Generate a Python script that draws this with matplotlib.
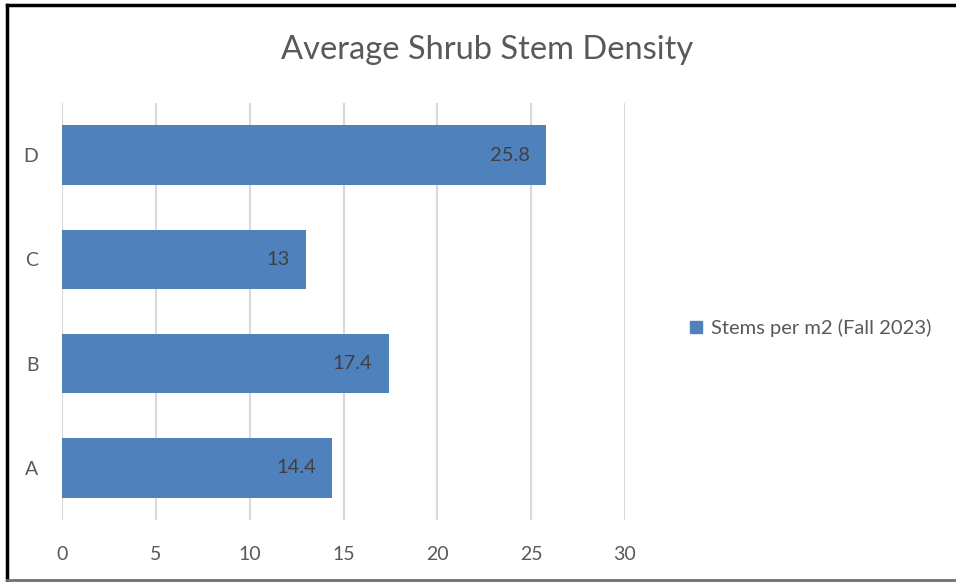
import matplotlib.pyplot as plt
from matplotlib.lines import Line2D
from matplotlib.patches import Patch

plt.rcParams['font.family'] = ['Lato', 'DejaVu Sans']

sites = ['A', 'B', 'C', 'D']
stems = [14.4, 17.4, 13, 25.8]
xticks = [0, 5, 10, 15, 20, 25, 30]
series_name = 'Stems per m2 (Fall 2023)'

W, H = 956, 582
fig = plt.figure(figsize=(W / 100, H / 100), dpi=100)
ax = fig.add_axes([62 / W, 1 - 520 / H, (625 - 62) / W, (520 - 103) / H])

bars = ax.barh(sites, stems, height=0.57, color='#4F81BD', zorder=3)
for b, v in zip(bars, stems):
    ax.text(v - 0.85, b.get_y() + b.get_height() / 2, f'{v:g}', ha='right', va='center',
            fontsize=14.5, color='#404040', zorder=4)

ax.set_xlim(0, 30)
ax.set_ylim(-0.5, 3.5)
ax.set_xticks(xticks)
ax.grid(axis='x', color='#D9D9D9', linewidth=1.5, zorder=0)
for s in ax.spines.values():
    s.set_visible(False)
ax.tick_params(length=0, labelsize=14, colors='#595959', pad=19)
ax.tick_params(axis='y', pad=17)

fig.text(487 / W, 1 - 50 / H, 'Average Shrub Stem Density', ha='center', va='center',
         fontsize=23.5, color='#595959')

fig.legend(handles=[Patch(color='#4F81BD', label=series_name)], loc='center left',
           bbox_to_anchor=(672 / W, 1 - 328 / H), frameon=False, fontsize=14.5,
           handlelength=0.6, handleheight=0.6, handletextpad=0.45, labelcolor='#595959')

# outer border like the screenshot
fig.add_artist(Line2D([7 / W, 7 / W], [0, 1 - 5 / H], color='black', lw=2.5, transform=fig.transFigure))
fig.add_artist(Line2D([7 / W, 1], [1 - 5 / H, 1 - 5 / H], color='black', lw=2.5, transform=fig.transFigure))
fig.add_artist(Line2D([7 / W, 1], [1 - 580 / H, 1 - 580 / H], color='#707070', lw=2, transform=fig.transFigure))

fig.savefig('out.png', dpi=100, facecolor='white')
